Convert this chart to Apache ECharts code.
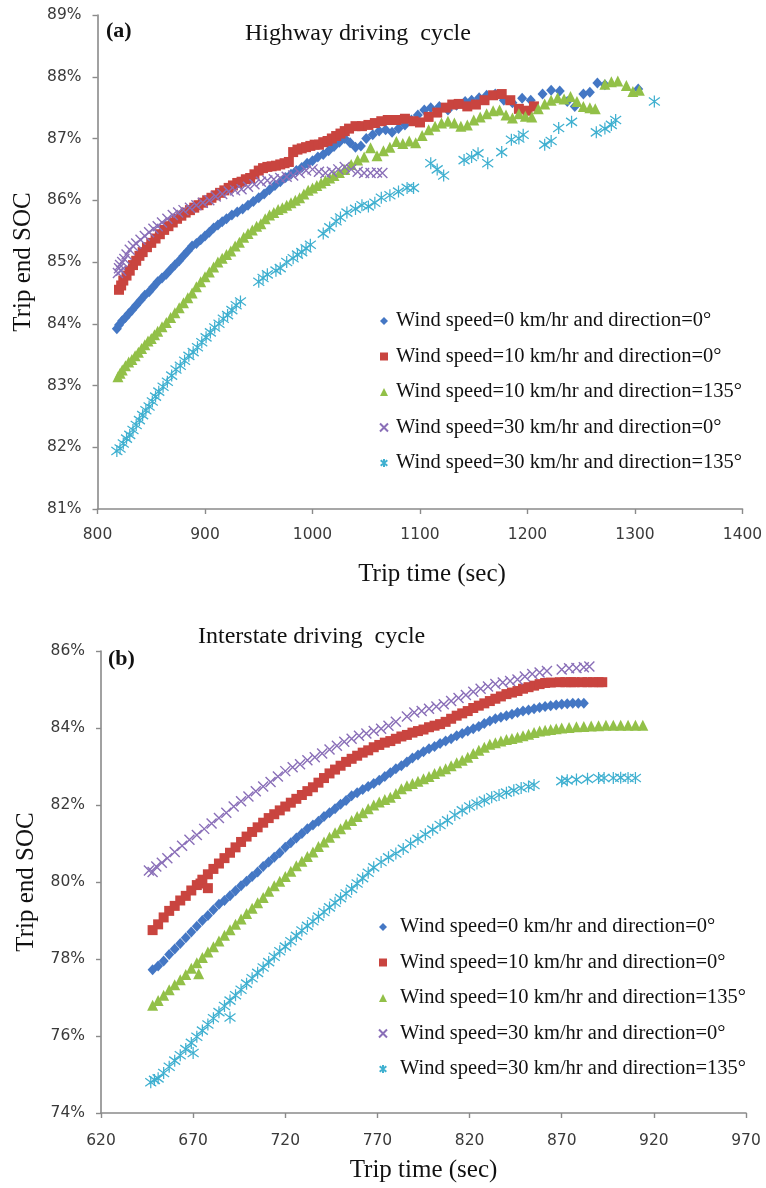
<!DOCTYPE html>
<html>
<head>
<meta charset="utf-8">
<title>Trip end SOC vs trip time</title>
<script src="https://cdn.jsdelivr.net/npm/echarts@6/dist/echarts.min.js"></script>
<style>
  html, body { margin: 0; padding: 0; background: #ffffff; }
  #chart { width: 766px; height: 1188px; }
</style>
</head>
<body>
<div id="chart"></div>
<script>
// ---- series labels ----
const seriesNames = [
  'Wind speed=0 km/hr and direction=0\u00b0',
  'Wind speed=10 km/hr and direction=0\u00b0',
  'Wind speed=10 km/hr and direction=135\u00b0',
  'Wind speed=30 km/hr and direction=0\u00b0',
  'Wind speed=30 km/hr and direction=135\u00b0'
];

// ---- axis ranges [min, max, step] ----
const hwTimeAxis = [800, 1400, 100];
const hwSocAxis = [81, 89, 1];
const isTimeAxis = [620, 970, 50];
const isSocAxis = [74, 86, 2];

// ---- (a) Highway driving cycle: [trip time (s), trip end SOC (%)] ----
const hwWind0 = [
  [818,83.92],[820,83.98],[823,84.05],[826,84.1],[829,84.16],[832,84.22],[836,84.3],[840,84.38],[844,84.46],
  [848,84.52],[852,84.6],[856,84.68],[860,84.74],[864,84.8],[868,84.88],[872,84.95],[876,85.02],[880,85.1],
  [884,85.18],[888,85.26],[892,85.3],[896,85.36],[900,85.42],[904,85.48],[908,85.55],[912,85.6],[916,85.65],
  [920,85.7],[925,85.76],[930,85.81],[935,85.86],[940,85.92],[945,85.98],[950,86.04],[955,86.1],[960,86.17],
  [965,86.24],[970,86.3],[975,86.37],[980,86.42],[985,86.48],[990,86.53],[995,86.6],[1000,86.64],[1005,86.7],
  [1010,86.74],[1015,86.8],[1020,86.87],[1025,86.94],[1030,87.0],[1035,86.93],[1040,86.86],[1045,86.88],
  [1050,87.0],[1056,87.06],[1062,87.12],[1068,87.14],[1074,87.1],[1080,87.16],[1086,87.22],[1092,87.3],
  [1098,87.38],[1104,87.46],[1110,87.5],[1118,87.52],[1126,87.46],[1134,87.54],[1142,87.6],[1148,87.62],
  [1155,87.66],[1162,87.7],[1170,87.72],[1178,87.62],[1186,87.58],[1195,87.65],[1203,87.62],[1214,87.72],
  [1222,87.78],[1230,87.77],[1237,87.6],[1244,87.52],[1252,87.72],[1258,87.75],[1265,87.9],[1272,87.87],
  [1303,87.8]
];
const hwWind10 = [
  [820,84.55],[822,84.62],[824,84.7],[827,84.78],[830,84.86],[833,84.95],[836,85.02],[839,85.1],[842,85.16],
  [846,85.24],[850,85.31],[854,85.38],[858,85.45],[862,85.52],[866,85.58],[870,85.64],[874,85.7],[878,85.75],
  [882,85.8],[886,85.84],[890,85.88],[894,85.92],[898,85.96],[902,86.0],[906,86.04],[910,86.08],[914,86.12],
  [918,86.16],[922,86.2],[926,86.24],[930,86.28],[934,86.3],[938,86.34],[942,86.36],[946,86.42],[950,86.48],
  [954,86.52],[958,86.54],[962,86.55],[966,86.56],[970,86.58],[974,86.6],[978,86.62],[982,86.78],[986,86.82],
  [990,86.84],[994,86.86],[998,86.88],[1002,86.9],[1006,86.9],[1010,86.94],[1014,86.96],[1018,87.0],
  [1022,87.04],[1026,87.08],[1030,87.12],[1034,87.16],[1040,87.2],[1046,87.2],[1052,87.22],[1058,87.25],
  [1064,87.28],[1070,87.3],[1078,87.3],[1086,87.32],[1094,87.28],[1100,87.26],[1108,87.35],[1116,87.42],
  [1124,87.5],[1130,87.55],[1136,87.56],[1144,87.52],[1152,87.55],[1160,87.62],[1168,87.7],[1176,87.72],
  [1184,87.62],[1192,87.48],[1200,87.45],[1206,87.52]
];
const hwWind10Dir135 = [
  [819,83.14],[821,83.2],[823,83.25],[826,83.32],[829,83.38],[832,83.42],[835,83.48],[838,83.54],[841,83.6],
  [844,83.66],[847,83.72],[850,83.76],[853,83.82],[856,83.88],[860,83.95],[864,84.02],[868,84.1],[872,84.18],
  [876,84.26],[880,84.34],[884,84.42],[888,84.5],[892,84.6],[896,84.68],[900,84.76],[904,84.84],[908,84.92],
  [912,85.0],[916,85.06],[920,85.12],[924,85.18],[928,85.26],[932,85.32],[936,85.4],[940,85.46],[944,85.52],
  [948,85.58],[952,85.62],[956,85.7],[960,85.76],[964,85.8],[968,85.85],[972,85.88],[976,85.92],[980,85.96],
  [984,86.0],[988,86.04],[992,86.1],[996,86.16],[1000,86.2],[1004,86.24],[1008,86.28],[1012,86.32],
  [1016,86.36],[1020,86.4],[1025,86.45],[1030,86.5],[1036,86.58],[1042,86.65],[1048,86.7],[1054,86.85],
  [1060,86.72],[1066,86.8],[1072,86.86],[1078,86.95],[1084,86.92],[1090,86.96],[1096,86.93],[1102,87.05],
  [1108,87.14],[1114,87.2],[1120,87.25],[1126,87.28],[1132,87.25],[1138,87.2],[1144,87.22],[1150,87.3],
  [1156,87.35],[1162,87.4],[1168,87.45],[1174,87.46],[1180,87.38],[1186,87.33],[1192,87.4],[1198,87.36],
  [1204,87.35],[1210,87.48],[1216,87.56],[1222,87.62],[1228,87.66],[1234,87.64],[1240,87.68],[1246,87.6],
  [1252,87.52],[1258,87.5],[1263,87.48],[1272,87.88],[1278,87.92],[1284,87.93],[1292,87.86],[1298,87.76],
  [1304,87.78]
];
const hwWind30 = [
  [819,84.82],[820,84.9],[821,84.95],[822,84.86],[823,85.0],[825,85.05],[827,85.12],[830,85.2],[833,85.26],
  [836,85.3],[840,85.36],[844,85.42],[848,85.48],[852,85.54],[856,85.58],[860,85.64],[865,85.7],[870,85.76],
  [875,85.8],[880,85.84],[886,85.88],[892,85.92],[898,85.96],[904,86.0],[910,86.06],[916,86.1],[922,86.14],
  [928,86.16],[934,86.18],[940,86.22],[946,86.26],[952,86.3],[958,86.32],[964,86.34],[970,86.36],[976,86.38],
  [982,86.4],[988,86.44],[994,86.48],[1000,86.5],[1006,86.46],[1012,86.44],[1018,86.46],[1024,86.5],
  [1030,86.54],[1036,86.5],[1042,86.46],[1048,86.44],[1054,86.44],[1060,86.45],[1065,86.44]
];
const hwWind30Dir135 = [
  [818,81.94],[821,81.98],[824,82.06],[827,82.14],[830,82.2],[833,82.28],[836,82.36],[839,82.44],[842,82.52],
  [845,82.6],[848,82.66],[851,82.74],[854,82.82],[857,82.9],[861,82.98],[865,83.06],[869,83.16],[873,83.26],
  [877,83.32],[881,83.4],[885,83.48],[889,83.54],[893,83.62],[897,83.7],[901,83.78],[905,83.86],[909,83.94],
  [913,84.0],[917,84.08],[921,84.14],[925,84.22],[929,84.3],[933,84.36],[950,84.68],[954,84.74],[958,84.8],
  [966,84.86],[970,84.9],[976,85.0],[982,85.06],[986,85.12],[990,85.16],[994,85.22],[998,85.28],[1010,85.46],
  [1016,85.56],[1022,85.66],[1026,85.72],[1032,85.8],[1040,85.86],[1046,85.92],[1052,85.9],[1058,85.96],
  [1064,86.04],[1072,86.08],[1080,86.14],[1088,86.2],[1094,86.2],[1110,86.6],[1116,86.5],[1122,86.4],
  [1141,86.65],[1148,86.7],[1154,86.76],[1163,86.6],[1176,86.78],[1185,86.98],[1192,87.0],[1196,87.06],
  [1216,86.9],[1222,86.96],[1229,87.17],[1241,87.27],[1264,87.1],[1272,87.16],[1278,87.22],[1282,87.3],
  [1318,87.6]
];

// ---- (b) Interstate driving cycle: [trip time (s), trip end SOC (%)] ----
const isWind0 = [
  [648,77.72],[651,77.82],[654,77.95],[657,78.12],[660,78.26],[663,78.4],[666,78.55],[669,78.7],[672,78.85],
  [675,79.0],[678,79.13],[681,79.28],[684,79.42],[687,79.52],[690,79.64],[693,79.77],[696,79.9],[699,80.02],
  [702,80.14],[705,80.26],[708,80.4],[711,80.52],[714,80.64],[717,80.76],[720,80.9],[723,81.02],[726,81.14],
  [729,81.26],[732,81.38],[735,81.48],[738,81.58],[741,81.7],[744,81.8],[747,81.9],[750,82.02],[753,82.12],
  [756,82.24],[759,82.32],[762,82.4],[765,82.48],[768,82.56],[771,82.64],[774,82.74],[777,82.84],[780,82.94],
  [783,83.02],[786,83.12],[789,83.22],[792,83.3],[795,83.38],[798,83.46],[801,83.52],[804,83.6],[807,83.66],
  [810,83.72],[813,83.8],[816,83.86],[819,83.92],[822,83.98],[825,84.04],[828,84.12],[831,84.18],[834,84.24],
  [837,84.28],[840,84.32],[843,84.36],[846,84.4],[849,84.44],[852,84.47],[855,84.5],[858,84.53],[861,84.56],
  [864,84.58],[867,84.6],[870,84.62],[873,84.63],[876,84.64],[879,84.64],[882,84.64]
];
const isWind10 = [
  [648,78.75],[651,78.9],[654,79.08],[657,79.25],[660,79.38],[663,79.52],[666,79.64],[669,79.78],[672,79.92],
  [674,79.96],[675,80.06],[678,80.2],[678,79.84],[681,80.34],[684,80.48],[687,80.62],[690,80.76],[693,80.9],
  [696,81.04],[699,81.18],[702,81.3],[705,81.42],[708,81.54],[711,81.66],[714,81.76],[717,81.86],[720,81.96],
  [723,82.06],[726,82.16],[729,82.26],[732,82.36],[735,82.46],[738,82.58],[741,82.7],[744,82.82],[747,82.92],
  [750,83.02],[753,83.12],[756,83.2],[759,83.28],[762,83.36],[765,83.42],[768,83.5],[771,83.56],[774,83.62],
  [777,83.66],[780,83.72],[783,83.78],[786,83.82],[789,83.88],[792,83.92],[795,83.96],[798,84.02],[801,84.06],
  [804,84.1],[807,84.16],[810,84.24],[813,84.32],[816,84.38],[819,84.44],[822,84.52],[825,84.58],[828,84.64],
  [831,84.7],[834,84.76],[837,84.82],[840,84.88],[843,84.92],[846,84.96],[849,85.02],[852,85.06],[855,85.1],
  [858,85.14],[861,85.17],[864,85.18],[869,85.19],[872,85.19],[875,85.19],[877,85.19],[881,85.19],[884,85.19],
  [887,85.19],[890,85.19],[892,85.19]
];
const isWind10Dir135 = [
  [648,76.8],[651,76.92],[654,77.06],[657,77.2],[660,77.33],[663,77.46],[666,77.6],[669,77.76],[672,77.9],
  [673,77.62],[675,78.04],[678,78.18],[681,78.32],[684,78.47],[687,78.62],[690,78.76],[693,78.9],[696,79.04],
  [699,79.18],[702,79.32],[705,79.46],[708,79.6],[711,79.76],[714,79.9],[717,80.02],[720,80.14],[723,80.28],
  [726,80.42],[729,80.54],[732,80.66],[735,80.78],[738,80.92],[741,81.04],[744,81.16],[747,81.28],[750,81.38],
  [753,81.5],[756,81.6],[759,81.7],[762,81.8],[765,81.9],[768,82.0],[771,82.08],[774,82.14],[777,82.2],
  [780,82.3],[783,82.42],[786,82.5],[789,82.56],[792,82.62],[795,82.68],[798,82.74],[801,82.82],[804,82.88],
  [807,82.94],[810,83.02],[813,83.1],[816,83.16],[819,83.24],[822,83.34],[825,83.42],[828,83.5],[831,83.58],
  [834,83.62],[837,83.66],[840,83.7],[843,83.73],[846,83.76],[849,83.8],[852,83.84],[855,83.88],[858,83.92],
  [861,83.94],[864,83.96],[867,83.98],[870,84.0],[874,84.01],[878,84.03],[882,84.04],[886,84.05],[890,84.06],
  [894,84.07],[898,84.07],[902,84.07],[906,84.07],[910,84.07],[914,84.07]
];
const isWind30 = [
  [646,80.3],[648,80.26],[650,80.4],[653,80.5],[656,80.62],[660,80.78],[664,80.94],[668,81.1],[672,81.22],
  [676,81.38],[680,81.52],[684,81.66],[688,81.8],[692,81.96],[696,82.1],[700,82.22],[704,82.36],[708,82.48],
  [712,82.6],[716,82.74],[720,82.88],[724,82.98],[728,83.06],[732,83.16],[736,83.24],[740,83.34],[744,83.44],
  [748,83.54],[752,83.64],[756,83.72],[760,83.8],[764,83.86],[768,83.92],[772,83.98],[776,84.06],[780,84.16],
  [786,84.3],[790,84.4],[794,84.44],[798,84.5],[802,84.56],[806,84.62],[810,84.7],[814,84.78],[818,84.86],
  [822,84.94],[826,85.02],[830,85.08],[834,85.14],[838,85.18],[842,85.22],[846,85.26],[850,85.34],[854,85.4],
  [858,85.44],[862,85.48],[870,85.52],[874,85.55],[878,85.56],[882,85.58],[885,85.6]
];
const isWind30Dir135 = [
  [647,74.8],[649,74.86],[651,74.9],[654,75.04],[657,75.2],[660,75.36],[663,75.5],[666,75.66],[669,75.82],
  [670,75.56],[672,75.98],[675,76.14],[678,76.3],[681,76.46],[684,76.62],[687,76.78],[690,76.92],[690,76.48],
  [693,77.06],[696,77.2],[699,77.36],[702,77.5],[705,77.64],[708,77.78],[711,77.92],[714,78.06],[717,78.2],
  [720,78.32],[723,78.46],[726,78.6],[729,78.74],[732,78.86],[735,78.98],[738,79.1],[741,79.22],[744,79.34],
  [747,79.46],[750,79.58],[753,79.7],[756,79.82],[759,79.96],[762,80.1],[765,80.24],[768,80.38],[772,80.52],
  [776,80.64],[780,80.74],[784,80.86],[788,81.0],[792,81.12],[796,81.24],[800,81.36],[804,81.48],[808,81.6],
  [812,81.74],[816,81.86],[820,81.96],[824,82.04],[828,82.12],[832,82.2],[836,82.26],[840,82.32],[844,82.38],
  [848,82.44],[852,82.48],[855,82.52],[870,82.62],[873,82.64],[878,82.66],[884,82.68],[890,82.7],[893,82.7],
  [898,82.7],[902,82.71],[906,82.7],[910,82.7]
];

// ---- marker styling per wind case ----
const SERIF = '"Liberation Serif", "Times New Roman", serif';
const SANS = '"DejaVu Sans", Verdana, sans-serif';
const markers = [
  { symbol: 'diamond', size: [10, 11], color: '#4477c4', stroke: 0 },
  { symbol: 'rect', size: 10, color: '#c9443f', stroke: 0 },
  { symbol: 'triangle', size: [11, 11], color: '#92c048', stroke: 0 },
  { symbol: 'path://M0,0L10,10M10,0L0,10', size: 10, color: '#8a6fb8', stroke: 1.4 },
  { symbol: 'path://M0,1L10,9M10,1L0,9M5,-1L5,11', size: [11, 12], color: '#3fb0d0', stroke: 1.3 }
];

function scatter(name, data, m, gridIndex) {
  return {
    type: 'scatter',
    name: name,
    xAxisIndex: gridIndex,
    yAxisIndex: gridIndex,
    data: data,
    symbol: m.symbol,
    symbolSize: m.size,
    itemStyle: {
      color: m.color,
      borderColor: m.color,
      borderWidth: m.stroke,
      opacity: 1
    },
    emphasis: { disabled: true },
    animation: false
  };
}

const plainNumber = v => String(v);
const percent = v => v + '%';

function valueAxis(range, extra) {
  return Object.assign({
    type: 'value',
    min: range[0],
    max: range[1],
    interval: range[2],
    splitLine: { show: false },
    axisLine: { show: true, onZero: false, lineStyle: { color: '#8a8a8a', width: 1.6 } },
    axisTick: { show: true, inside: false, length: 5, lineStyle: { color: '#8a8a8a', width: 1.4 } },
    nameTextStyle: { color: '#111', fontFamily: SERIF, fontSize: 25 }
  }, extra);
}

function tickLabels(margin, formatter) {
  return { color: '#3a3a3a', fontFamily: SANS, fontSize: 15.5, margin: margin, formatter: formatter };
}

const hwSets = [hwWind0, hwWind10, hwWind10Dir135, hwWind30, hwWind30Dir135];
const isSets = [isWind0, isWind10, isWind10Dir135, isWind30, isWind30Dir135];

const series = [];
hwSets.forEach((d, i) => series.push(scatter(seriesNames[i], d, markers[i], 0)));
isSets.forEach((d, i) => series.push(scatter(seriesNames[i], d, markers[i], 1)));

const legendBase = {
  orient: 'vertical',
  data: seriesNames,
  padding: 0,
  itemWidth: 8,
  itemHeight: 8,
  itemGap: 13.5,
  selectedMode: false,
  textStyle: { color: '#111', fontFamily: SERIF, fontSize: 20.5, lineHeight: 22 }
};

function heading(text, left, top, size, weight) {
  return {
    text: text, left: left, top: top, padding: 0,
    textStyle: { fontFamily: SERIF, fontSize: size, fontWeight: weight, color: '#111', lineHeight: size + 4 }
  };
}

const option = {
  backgroundColor: '#ffffff',
  animation: false,
  title: [
    heading('(a)', 106, 18, 22, 'bold'),
    heading('Highway driving  cycle', 245, 20, 24, 'normal'),
    heading('(b)', 108, 646, 22, 'bold'),
    heading('Interstate driving  cycle', 198, 623, 24, 'normal')
  ],
  legend: [
    Object.assign({}, legendBase, { left: 379, top: 310, textStyle: Object.assign({}, legendBase.textStyle, { padding: [0, 0, 0, 3] }) }),
    Object.assign({}, legendBase, { left: 378, top: 916, textStyle: Object.assign({}, legendBase.textStyle, { padding: [0, 0, 0, 8] }) })
  ],
  grid: [
    { left: 97.5, top: 15, width: 645, height: 494, containLabel: false, outerBoundsMode: 'none' },
    { left: 101, top: 651, width: 645, height: 462, containLabel: false, outerBoundsMode: 'none' }
  ],
  xAxis: [
    valueAxis(hwTimeAxis, {
      gridIndex: 0, name: 'Trip time (sec)', nameLocation: 'middle', nameGap: 53,
      axisLabel: tickLabels(18, plainNumber),
      nameTextStyle: { color: '#111', fontFamily: SERIF, fontSize: 25, padding: [0, 0, 0, 24] }
    }),
    valueAxis(isTimeAxis, {
      gridIndex: 1, name: 'Trip time (sec)', nameLocation: 'middle', nameGap: 45,
      axisLabel: tickLabels(20, plainNumber)
    })
  ],
  yAxis: [
    valueAxis(hwSocAxis, {
      gridIndex: 0, name: 'Trip end SOC', nameLocation: 'middle', nameGap: 62,
      axisLabel: tickLabels(16, percent)
    }),
    valueAxis(isSocAxis, {
      gridIndex: 1, name: 'Trip end SOC', nameLocation: 'middle', nameGap: 62,
      axisLabel: tickLabels(16, percent)
    })
  ],
  series: series
};

const chart = echarts.init(document.getElementById('chart'), null, { renderer: 'canvas' });
chart.setOption(option);
</script>
</body>
</html>
